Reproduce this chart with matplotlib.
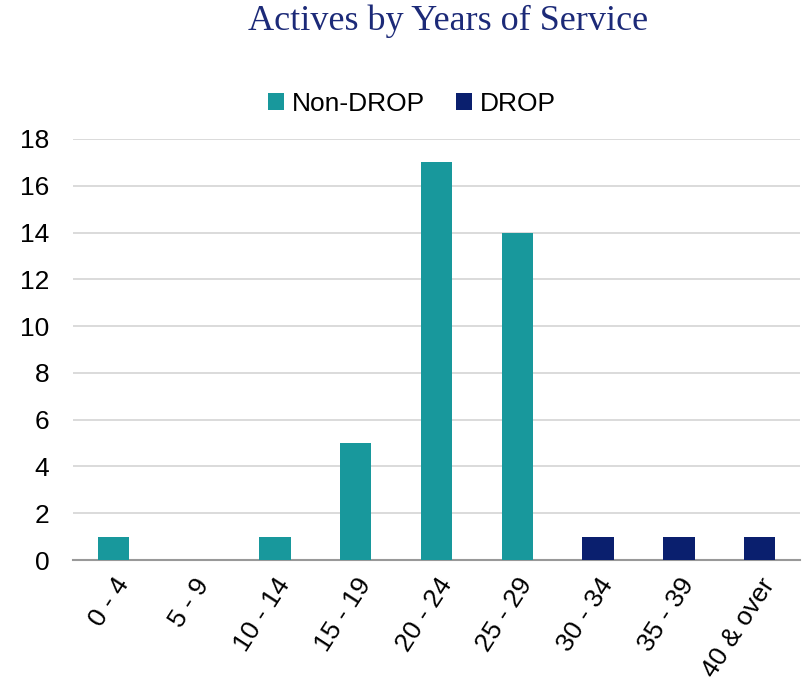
import numpy as np
import matplotlib.pyplot as plt

# Actives by years of service, split Non-DROP / DROP
CATEGORIES = ["0 - 4", "5 - 9", "10 - 14", "15 - 19", "20 - 24",
              "25 - 29", "30 - 34", "35 - 39", "40 & over"]
NON_DROP = [1, 0, 1, 5, 17, 14, 0, 0, 0]
DROP = [0, 0, 0, 0, 0, 0, 1, 1, 1]
Y_TICKS = [0, 2, 4, 6, 8, 10, 12, 14, 16, 18]

TEAL = "#18989c"
NAVY = "#0a1f6e"

plt.rcParams['font.family'] = ['Liberation Sans', 'DejaVu Sans']

fig = plt.figure(figsize=(8.04, 6.88), dpi=100)
ax = fig.add_axes([73/804, 1 - 560/688, 727/804, 421/688])

x = np.arange(len(CATEGORIES))
ax.bar(x, NON_DROP, width=0.39, color=TEAL, label="Non-DROP", zorder=3)
ax.bar(x, DROP, width=0.39, bottom=NON_DROP, color=NAVY, label="DROP", zorder=3)

ax.set_ylim(0, 18)
ax.set_xlim(-0.5, len(CATEGORIES) - 0.5)
ax.set_yticks(Y_TICKS)
ax.set_xticks(x)
ax.set_xticklabels(CATEGORIES, rotation=57, ha="right", rotation_mode="anchor")
ax.tick_params(axis="both", length=0, labelsize=19, colors="black")
ax.tick_params(axis="y", pad=17)
ax.tick_params(axis="x", pad=10)

ax.grid(axis="y", color="#d4d4d4", linewidth=1.2, zorder=0)
for s in ["top", "right", "left"]:
    ax.spines[s].set_visible(False)
ax.spines["bottom"].set_color("#999999")
ax.spines["bottom"].set_linewidth(1.5)

fig.text(448/804, 1 - 21/688, "Actives by Years of Service", ha="center", va="center",
         fontsize=26, color="#1c2a78", family=["Liberation Serif", "DejaVu Serif"])

fig.legend(loc="center", bbox_to_anchor=(412/804, 1 - 104/688), ncol=2, frameon=False,
           fontsize=19, handlelength=0.6, handleheight=0.6, handletextpad=0.3,
           columnspacing=1.2)

fig.savefig("out.png", dpi=100)
